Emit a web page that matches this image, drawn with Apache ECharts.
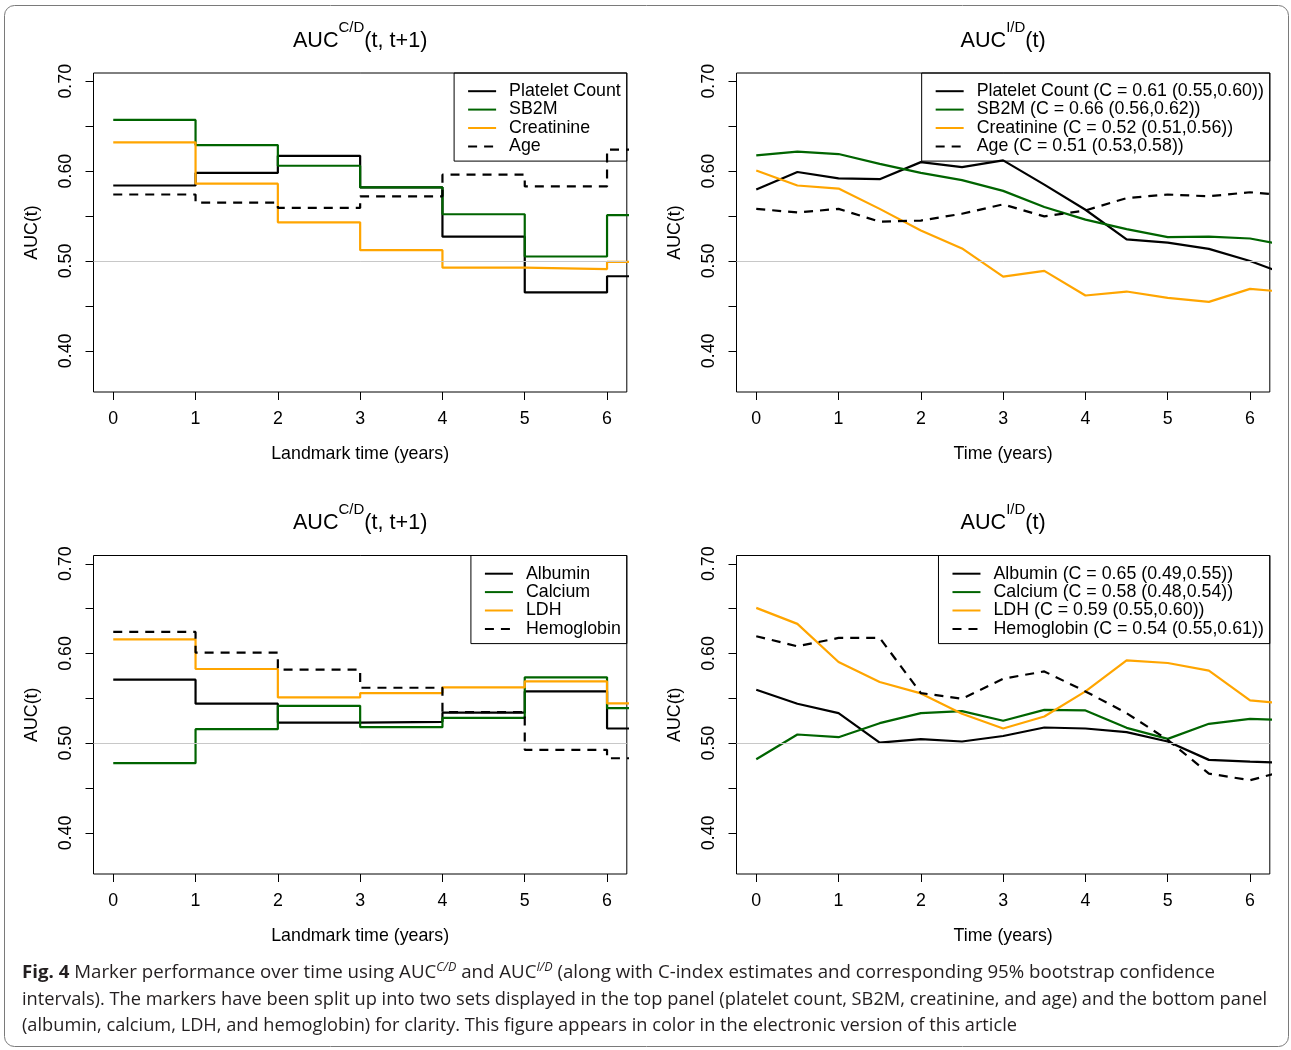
<!DOCTYPE html>
<html>
<head>
<meta charset="utf-8">
<script src="https://cdn.jsdelivr.net/npm/echarts@6/dist/echarts.min.js"></script>
<style>
html,body{margin:0;padding:0;background:#fff;}
#chart{position:absolute;left:0;top:0;width:1291px;height:1050px;}
.ln{position:absolute;left:22px;white-space:nowrap;transform-origin:0 0;font-family:"Open Sans","Noto Sans",sans-serif;font-size:18px;line-height:26px;color:#231f20;}
.ln sup{font-size:12px;line-height:0;vertical-align:7px;}
</style>
</head>
<body>
<div id="chart"></div>
<div class="ln" id="l1" data-w="1193" style="top:958px;"><b>Fig. 4</b> Marker performance over time using AUC<sup><i>C/D</i></sup> and AUC<sup><i>I/D</i></sup> (along with C-index estimates and corresponding 95% bootstrap confidence</div>
<div class="ln" id="l2" data-w="1245" style="top:985px;">intervals). The markers have been split up into two sets displayed in the top panel (platelet count, SB2M, creatinine, and age) and the bottom panel</div>
<div class="ln" id="l3" data-w="995" style="top:1011px;">(albumin, calcium, LDH, and hemoglobin) for clarity. This figure appears in color in the electronic version of this article</div>
<script>
// ---------------- data ----------------
const landmarks = [0, 1, 2, 3, 4, 5, 6];
const times = [0, 0.5, 1, 1.5, 2, 2.5, 3, 3.5, 4, 4.5, 5, 5.5, 6, 6.5];
const xTicks = [0, 1, 2, 3, 4, 5, 6];
const yTicks = [0.40, 0.45, 0.50, 0.55, 0.60, 0.65, 0.70];
const yLabels = [0.40, 0.50, 0.60, 0.70];
const reference = 0.5;

// top-left: AUC C/D (t, t+1)
const cdPlatelet   = [0.584, 0.598, 0.617, 0.582, 0.527, 0.465, 0.483];
const cdSB2M       = [0.657, 0.629, 0.606, 0.582, 0.552, 0.505, 0.551];
const cdCreatinine = [0.632, 0.586, 0.543, 0.512, 0.4925, 0.491, 0.499];
const cdAge        = [0.574, 0.565, 0.559, 0.572, 0.596, 0.583, 0.624];

// top-right: AUC I/D (t)
const idPlatelet   = [0.5795, 0.599, 0.592, 0.591, 0.610, 0.6045, 0.612, 0.585, 0.557, 0.524, 0.5205, 0.5135, 0.500, 0.483];
const idSB2M       = [0.6175, 0.6216, 0.619, 0.608, 0.598, 0.590, 0.578, 0.560, 0.546, 0.5355, 0.5265, 0.527, 0.525, 0.5166];
const idCreatinine = [0.6007, 0.584, 0.5806, 0.558, 0.534, 0.514, 0.4825, 0.489, 0.4616, 0.466, 0.459, 0.4545, 0.469, 0.465];
const idAge        = [0.558, 0.554, 0.558, 0.5437, 0.545, 0.5526, 0.563, 0.5496, 0.5563, 0.570, 0.574, 0.572, 0.5765, 0.5725];

// bottom-left: AUC C/D (t, t+1)
const cdAlbumin    = [0.5708, 0.544, 0.523, 0.5238, 0.534, 0.5577, 0.5164];
const cdCalcium    = [0.4777, 0.5156, 0.5417, 0.5179, 0.5283, 0.5734, 0.539];
const cdLDH        = [0.6158, 0.5827, 0.551, 0.5559, 0.5622, 0.5689, 0.5443];
const cdHemoglobin = [0.624, 0.601, 0.582, 0.5618, 0.5346, 0.4926, 0.4832];

// bottom-right: AUC I/D (t)
const idAlbumin    = [0.5596, 0.544, 0.5335, 0.5007, 0.5045, 0.5019, 0.508, 0.5175, 0.5164, 0.5123, 0.5019, 0.4814, 0.4795, 0.478];
const idCalcium    = [0.4821, 0.5097, 0.5067, 0.5223, 0.5335, 0.5357, 0.525, 0.5372, 0.5365, 0.5171, 0.5048, 0.5216, 0.5272, 0.5255];
const idLDH        = [0.6508, 0.633, 0.5905, 0.5682, 0.5555, 0.5328, 0.5164, 0.5298, 0.5577, 0.5924, 0.5894, 0.5808, 0.5477, 0.5437];
const idHemoglobin = [0.6192, 0.608, 0.6173, 0.6173, 0.5559, 0.5495, 0.5719, 0.580, 0.5577, 0.5335, 0.5037, 0.4661, 0.4587, 0.471];

const namesTopCD = ['Platelet Count', 'SB2M', 'Creatinine', 'Age'];
const namesTopID = ['Platelet Count (C = 0.61 (0.55,0.60))', 'SB2M (C = 0.66 (0.56,0.62))', 'Creatinine (C = 0.52 (0.51,0.56))', 'Age (C = 0.51 (0.53,0.58))'];
const namesBotCD = ['Albumin', 'Calcium', 'LDH', 'Hemoglobin'];
const namesBotID = ['Albumin (C = 0.65 (0.49,0.55))', 'Calcium (C = 0.58 (0.48,0.54))', 'LDH (C = 0.59 (0.55,0.60))', 'Hemoglobin (C = 0.54 (0.55,0.61))'];

// ---------------- style ----------------
const FONT = '"Liberation Sans", Arial, Helvetica, sans-serif';
const COLORS = ['#000000', '#006400', '#FFA500', '#000000'];
const TYPES = ['solid', 'solid', 'solid', [9, 7]];
const LW = 2.2;
const W = 1291;
const grids = [
  {left: 93.5, top: 73, width: 533.3, height: 319},
  {left: 736.5, top: 73, width: 533.3, height: 319},
  {left: 93.5, top: 555.5, width: 533.3, height: 318.5},
  {left: 736.5, top: 555.5, width: 533.3, height: 318.5}
];
const xNames = ['Landmark time (years)', 'Time (years)', 'Landmark time (years)', 'Time (years)'];

const xAxes = grids.map((g, i) => ({
  type: 'value', gridIndex: i, min: -0.24, max: 6.24, position: 'bottom',
  name: xNames[i], nameLocation: 'middle', nameGap: 53,
  nameTextStyle: {fontFamily: FONT, fontSize: 17.8, color: '#000'},
  axisLine: {show: false, onZero: false},
  axisTick: {show: true, inside: false, length: 8, customValues: xTicks, lineStyle: {color: '#000', width: 1}},
  axisLabel: {customValues: xTicks, margin: 18, fontFamily: FONT, fontSize: 17.8, color: '#000', formatter: v => String(Math.round(v))},
  splitLine: {show: false}
}));
const yAxes = grids.map((g, i) => ({
  type: 'value', gridIndex: i, min: 0.3542, max: 0.7092, position: 'left',
  name: 'AUC(t)', nameLocation: 'middle', nameGap: 52, nameRotate: 90,
  nameTextStyle: {fontFamily: FONT, fontSize: 17.8, color: '#000'},
  axisLine: {show: false, onZero: false},
  axisTick: {show: true, inside: false, length: 8, customValues: yTicks, lineStyle: {color: '#000', width: 1}},
  axisLabel: {customValues: yLabels, rotate: 90, margin: 18, fontFamily: FONT, fontSize: 17.8, color: '#000', formatter: v => v.toFixed(2)},
  splitLine: {show: false}
}));

function stepSeries(name, vals, k, gi) {
  const data = landmarks.map((t, j) => [t, vals[j]]);
  data.push([landmarks[landmarks.length - 1] + 1, vals[vals.length - 1]]);
  return {type: 'line', name, xAxisIndex: gi, yAxisIndex: gi, data, step: 'end',
    symbol: 'none', showSymbol: false, color: COLORS[k],
    lineStyle: {color: COLORS[k], width: LW, type: TYPES[k]}, z: 3};
}
function lineSeries(name, vals, k, gi) {
  return {type: 'line', name, xAxisIndex: gi, yAxisIndex: gi,
    data: times.map((t, j) => [t, vals[j]]),
    symbol: 'none', showSymbol: false, color: COLORS[k],
    lineStyle: {color: COLORS[k], width: LW, type: TYPES[k]}, z: 3};
}
function refSeries(gi) {
  return {type: 'line', xAxisIndex: gi, yAxisIndex: gi, data: [], z: 2,
    markLine: {silent: true, symbol: 'none', animation: false, label: {show: false},
      lineStyle: {color: '#c8c8c8', width: 1, type: 'solid'}, data: [{yAxis: reference}]}};
}
function legendFor(names, gi) {
  const g = grids[gi];
  return {data: names, orient: 'vertical', right: W - (g.left + g.width), top: g.top,
    itemWidth: 28, itemHeight: 14, itemGap: 0, padding: [9, 6, 5.5, 13],
    borderColor: '#000', borderWidth: 1, selectedMode: false,
    itemStyle: {opacity: 0},
    textStyle: {fontFamily: FONT, fontSize: 17.8, color: '#000', lineHeight: 18.4, padding: [0, 0, 0, 8]}};
}
function title(gi, sup, rest) {
  const g = grids[gi];
  return {type: 'text', x: g.left + g.width / 2, y: g.top - 37,
    style: {text: '{b|AUC}{s|' + sup + '}{b|' + rest + '}', align: 'center', verticalAlign: 'middle',
      rich: {b: {fontFamily: FONT, fontSize: 21.6, lineHeight: 32, verticalAlign: 'bottom', fill: '#000'},
             s: {fontFamily: FONT, fontSize: 15, lineHeight: 12, verticalAlign: 'top', fill: '#000'}}}};
}

const series = [
  refSeries(0), refSeries(1), refSeries(2), refSeries(3),
  stepSeries(namesTopCD[0], cdPlatelet, 0, 0),
  stepSeries(namesTopCD[1], cdSB2M, 1, 0),
  stepSeries(namesTopCD[2], cdCreatinine, 2, 0),
  stepSeries(namesTopCD[3], cdAge, 3, 0),
  lineSeries(namesTopID[0], idPlatelet, 0, 1),
  lineSeries(namesTopID[1], idSB2M, 1, 1),
  lineSeries(namesTopID[2], idCreatinine, 2, 1),
  lineSeries(namesTopID[3], idAge, 3, 1),
  stepSeries(namesBotCD[0], cdAlbumin, 0, 2),
  stepSeries(namesBotCD[1], cdCalcium, 1, 2),
  stepSeries(namesBotCD[2], cdLDH, 2, 2),
  stepSeries(namesBotCD[3], cdHemoglobin, 3, 2),
  lineSeries(namesBotID[0], idAlbumin, 0, 3),
  lineSeries(namesBotID[1], idCalcium, 1, 3),
  lineSeries(namesBotID[2], idLDH, 2, 3),
  lineSeries(namesBotID[3], idHemoglobin, 3, 3)
];

const chart = echarts.init(document.getElementById('chart'), null, {renderer: 'canvas'});
chart.setOption({
  animation: false,
  backgroundColor: '#fff',
  grid: grids.map(g => Object.assign({show: true, borderColor: '#000', borderWidth: 1, backgroundColor: 'transparent', containLabel: false}, g)),
  xAxis: xAxes,
  yAxis: yAxes,
  legend: [legendFor(namesTopCD, 0), legendFor(namesTopID, 1), legendFor(namesBotCD, 2), legendFor(namesBotID, 3)],
  series,
  graphic: [
    {type: 'rect', shape: {x: 4.5, y: 5.5, width: 1284, height: 1041, r: 10}, style: {fill: 'none', stroke: '#7a7a7a', lineWidth: 1}, z: 0},
    title(0, 'C/D', '(t, t+1)'),
    title(1, 'I/D', '(t)'),
    title(2, 'C/D', '(t, t+1)'),
    title(3, 'I/D', '(t)')
  ]
});

// fit caption lines to their widths in the reference
document.querySelectorAll('.ln').forEach(el => {
  const w = el.getBoundingClientRect().width;
  const target = parseFloat(el.dataset.w);
  el.style.transform = 'scaleX(' + (target / w) + ')';
});
</script>
</body>
</html>
